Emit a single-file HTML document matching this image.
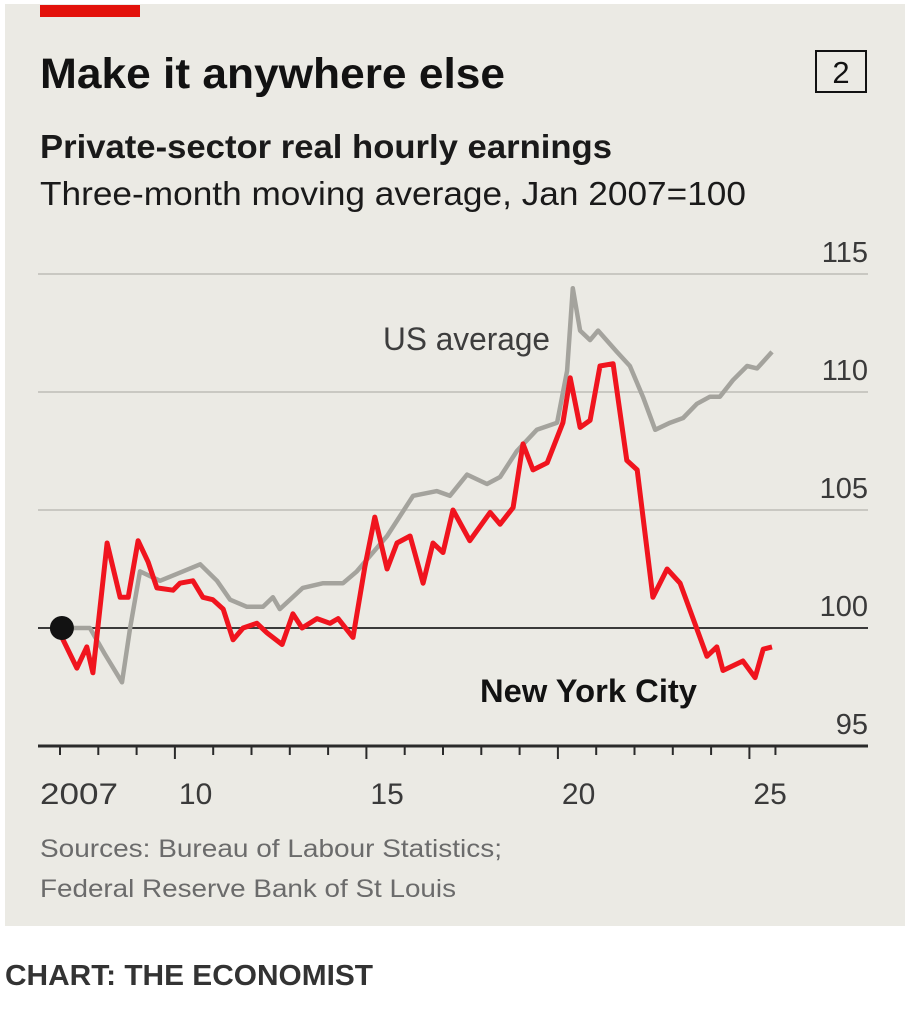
<!DOCTYPE html>
<html><head><meta charset="utf-8"><style>
html,body{margin:0;padding:0;background:#fff;}
svg{display:block;font-family:"Liberation Sans",sans-serif;}
</style></head><body>
<svg id="chart" width="912" height="1014" viewBox="0 0 912 1014" xmlns="http://www.w3.org/2000/svg">
<rect x="5" y="4" width="900" height="922" fill="#ebeae4"/>
<rect x="40" y="5" width="100" height="12" fill="#e3120b"/>
<text x="40" y="88" font-size="43" font-weight="bold" fill="#121212" textLength="465" lengthAdjust="spacingAndGlyphs">Make it anywhere else</text>
<rect x="816" y="51" width="50" height="41" fill="none" stroke="#121212" stroke-width="2"/>
<text x="841" y="83" font-size="31" text-anchor="middle" fill="#121212">2</text>
<text x="40" y="158" font-size="33" font-weight="bold" fill="#1a1a1a" textLength="572" lengthAdjust="spacingAndGlyphs">Private-sector real hourly earnings</text>
<text x="40" y="205" font-size="33" fill="#1a1a1a" textLength="706" lengthAdjust="spacingAndGlyphs">Three-month moving average, Jan 2007=100</text>
<g id="grid"></g>
<g id="series"></g>
<g id="xaxis"></g>
<text x="383" y="350" font-size="32" fill="#3d3d3d" textLength="167" lengthAdjust="spacingAndGlyphs">US average</text>
<text x="480" y="702" font-size="32" font-weight="bold" fill="#121212" textLength="217" lengthAdjust="spacingAndGlyphs">New York City</text>
<text x="40" y="857" font-size="25" fill="#6b6b6b" textLength="462" lengthAdjust="spacingAndGlyphs">Sources: Bureau of Labour Statistics;</text>
<text x="40" y="897" font-size="25" fill="#6b6b6b" textLength="416" lengthAdjust="spacingAndGlyphs">Federal Reserve Bank of St Louis</text>
<text x="5" y="985" font-size="29" font-weight="bold" fill="#333" textLength="368" lengthAdjust="spacingAndGlyphs">CHART: THE ECONOMIST</text>
</svg>
<script>
const yTicks=[95,100,105,110,115];
const xTickYears=[2007,2008,2009,2010,2011,2012,2013,2014,2015,2016,2017,2018,2019,2020,2021,2022,2023,2024,2025];
const xLabelYears=[2007,2010,2015,2020,2025];
const xLabelText=["2007","10","15","20","25"];
const nycYears=[2007.05,2007.44,2007.70,2007.86,2008.23,2008.57,2008.78,2009.04,2009.30,2009.53,2009.95,2010.13,2010.47,2010.73,2010.99,2011.26,2011.52,2011.78,2012.14,2012.40,2012.80,2013.08,2013.32,2013.71,2014.05,2014.26,2014.65,2014.96,2015.22,2015.54,2015.80,2016.14,2016.48,2016.74,2017.00,2017.26,2017.70,2018.23,2018.49,2018.83,2019.09,2019.35,2019.72,2020.13,2020.32,2020.58,2020.84,2021.10,2021.44,2021.80,2022.07,2022.48,2022.85,2023.19,2023.89,2024.15,2024.31,2024.83,2025.15,2025.36,2025.59];
const nycValues=[99.6,98.3,99.2,98.1,103.6,101.3,101.3,103.7,102.8,101.7,101.6,101.9,102.0,101.3,101.2,100.8,99.5,100.0,100.2,99.8,99.3,100.6,100.0,100.4,100.2,100.4,99.6,102.6,104.7,102.5,103.6,103.9,101.9,103.6,103.2,105.0,103.7,104.9,104.4,105.1,107.8,106.7,107.0,108.7,110.6,108.5,108.8,111.1,111.2,107.1,106.7,101.3,102.5,101.9,98.8,99.2,98.2,98.6,97.9,99.1,99.2];
const usYears=[2007.05,2007.78,2008.17,2008.62,2008.83,2009.09,2009.61,2010.21,2010.66,2011.10,2011.44,2011.88,2012.30,2012.56,2012.74,2013.34,2013.87,2014.39,2014.75,2015.54,2016.22,2016.84,2017.18,2017.63,2018.15,2018.49,2018.93,2019.45,2019.98,2020.24,2020.39,2020.58,2020.84,2021.05,2021.54,2021.88,2022.22,2022.54,2022.93,2023.27,2023.63,2023.97,2024.23,2024.57,2024.94,2025.20,2025.59];
const usValues=[100.0,100.0,98.9,97.7,100.0,102.4,102.0,102.4,102.7,102.0,101.2,100.9,100.9,101.3,100.8,101.7,101.9,101.9,102.4,103.9,105.6,105.8,105.6,106.5,106.1,106.4,107.5,108.4,108.7,110.9,114.4,112.6,112.2,112.6,111.7,111.1,109.8,108.4,108.7,108.9,109.5,109.8,109.8,110.5,111.1,111.0,111.7];

const NS='http://www.w3.org/2000/svg';
const xs=y=>60+(y-2007)*38.3;
const ys=v=>628-(v-100)*23.6;
function mk(tag,attrs,parent){const e=document.createElementNS(NS,tag);for(const k in attrs)e.setAttribute(k,attrs[k]);parent.appendChild(e);return e;}
const grid=document.getElementById('grid');
yTicks.forEach(v=>{
  const l=mk('line',{x1:38,x2:868,y1:ys(v),y2:ys(v),stroke:v===100?'#3a3a3a':(v===95?'#2a2a2a':'#c9c8c2'),'stroke-width':v===95?3:2},grid);
  
  
  const t=mk('text',{x:868,y:ys(v)-12,'font-size':29,'text-anchor':'end',fill:'#3a3a3a'},grid);
  t.textContent=String(v);
  
  
});
const series=document.getElementById('series');
function path(xa,va){return xa.map((y,i)=>(i?'L':'M')+xs(y).toFixed(1)+' '+ys(va[i]).toFixed(1)).join(' ');}
const us=mk('path',{d:path(usYears,usValues),fill:'none',stroke:'#a4a39d','stroke-width':4.5,'stroke-linejoin':'round'},series);


const ny=mk('path',{d:path(nycYears,nycValues),fill:'none',stroke:'#f0141e','stroke-width':5,'stroke-linejoin':'round'},series);


const dot=mk('circle',{cx:xs(2007.05),cy:ys(100),r:12,fill:'#121212'},series);


const xa=document.getElementById('xaxis');
xTickYears.forEach(y=>{
  const tall=xLabelYears.includes(y)&&y!==2007;
  const t=mk('line',{x1:xs(y),x2:xs(y),y1:746,y2:tall?759:755,stroke:'#2a2a2a','stroke-width':2},xa);
  
  
});
const last=mk('line',{x1:xs(2025.68),x2:xs(2025.68),y1:746,y2:755,stroke:'#2a2a2a','stroke-width':2},xa);


xLabelYears.forEach((y,i)=>{
  const t=mk('text',{x:y===2007?40:xs(y)+4,y:804,'font-size':30,fill:'#3a3a3a'},xa);
  if(y===2007){t.setAttribute('textLength','78');t.setAttribute('lengthAdjust','spacingAndGlyphs');}
  t.textContent=xLabelText[i];
  
  
});
</script>
</body></html>
